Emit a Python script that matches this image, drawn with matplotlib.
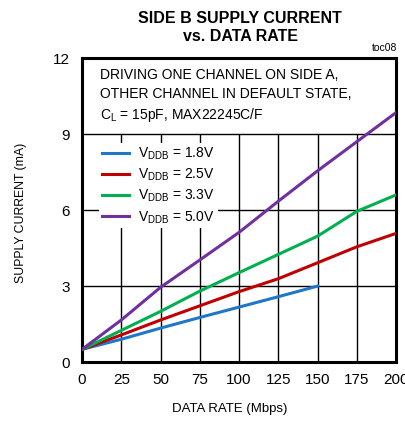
import matplotlib
matplotlib.use("Agg")
import matplotlib.pyplot as plt

plt.rcParams['font.family'] = ['Liberation Sans', 'DejaVu Sans']
plt.rcParams['mathtext.fontset'] = 'custom'
plt.rcParams['mathtext.rm'] = 'Liberation Sans'

# data
rate_18 = [0, 25, 50, 75, 100, 125, 150]
curr_18 = [0.5, 0.9, 1.34, 1.76, 2.17, 2.58, 3.0]
rate = [0, 25, 50, 75, 100, 125, 150, 175, 200]
curr_25 = [0.5, 1.07, 1.66, 2.22, 2.78, 3.29, 3.92, 4.55, 5.08]
curr_33 = [0.5, 1.25, 2.0, 2.8, 3.53, 4.25, 4.97, 5.95, 6.6]
curr_50 = [0.5, 1.66, 2.95, 4.03, 5.12, 6.35, 7.55, 8.7, 9.85]

labels = ["V$_{\\mathrm{DDB}}$ = 1.8V", "V$_{\\mathrm{DDB}}$ = 2.5V",
          "V$_{\\mathrm{DDB}}$ = 3.3V", "V$_{\\mathrm{DDB}}$ = 5.0V"]
colors = ["#1f77c8", "#c00000", "#00b050", "#7030a0"]
x_ticks = [0, 25, 50, 75, 100, 125, 150, 175, 200]
y_ticks = [0, 3, 6, 9, 12]

fig = plt.figure(figsize=(4.05, 4.21), dpi=100)
ax = fig.add_axes([0.2025, 0.140, 0.7755, 0.722])

# grid: verticals stop at 9, horizontals full width
ax.vlines(x_ticks[1:-1], 0, 9, color='black', lw=1, zorder=1)
ax.hlines(y_ticks[1:-1], 0, 200, color='black', lw=1, zorder=1)

series = [(rate_18, curr_18), (rate, curr_25), (rate, curr_33), (rate, curr_50)]
for (xs, ys), c, lab in zip(series, colors, labels):
    ax.plot(xs, ys, color=c, lw=2.2, label=lab, zorder=3)

ax.set_xlim(0, 200)
ax.set_ylim(0, 12)
ax.set_xticks(x_ticks)
ax.set_yticks(y_ticks)
ax.tick_params(axis='y', length=0, labelsize=11, pad=9)
ax.tick_params(axis='x', length=0, labelsize=11, pad=8)
for s in ax.spines.values():
    s.set_linewidth(2.2)

ax.set_xlabel("DATA RATE (Mbps)", fontsize=9.5)
ax.xaxis.set_label_coords(0.471, -0.135)
ax.set_ylabel("SUPPLY CURRENT (mA)", fontsize=8.8)
ax.yaxis.set_label_coords(-0.175, 0.49)

ax.text(11.5, 11.6, "DRIVING ONE CHANNEL ON SIDE A,\nOTHER CHANNEL IN DEFAULT STATE,\nC$_{\\mathrm{L}}$ = 15pF, MAX22245C/F",
        fontsize=10, va='top', ha='left', linespacing=1.4, zorder=4)

leg = ax.legend(loc='upper left', bbox_to_anchor=(0.055, 0.722), frameon=True,
                fontsize=10, handlelength=1.95, handletextpad=0.65,
                labelspacing=0.35, borderpad=0.2, borderaxespad=0)
leg.get_frame().set_facecolor('white')
leg.get_frame().set_edgecolor('none')
leg.get_frame().set_alpha(1)
leg.set_zorder(5)

fig.text(0.593, 0.975, "SIDE B SUPPLY CURRENT\nvs. DATA RATE", ha='center', va='top',
         fontsize=11.5, fontweight='bold', linespacing=1.25)
fig.text(0.98, 0.874, "toc08", ha='right', va='bottom', fontsize=7.5)

fig.savefig("out.png", dpi=100)
